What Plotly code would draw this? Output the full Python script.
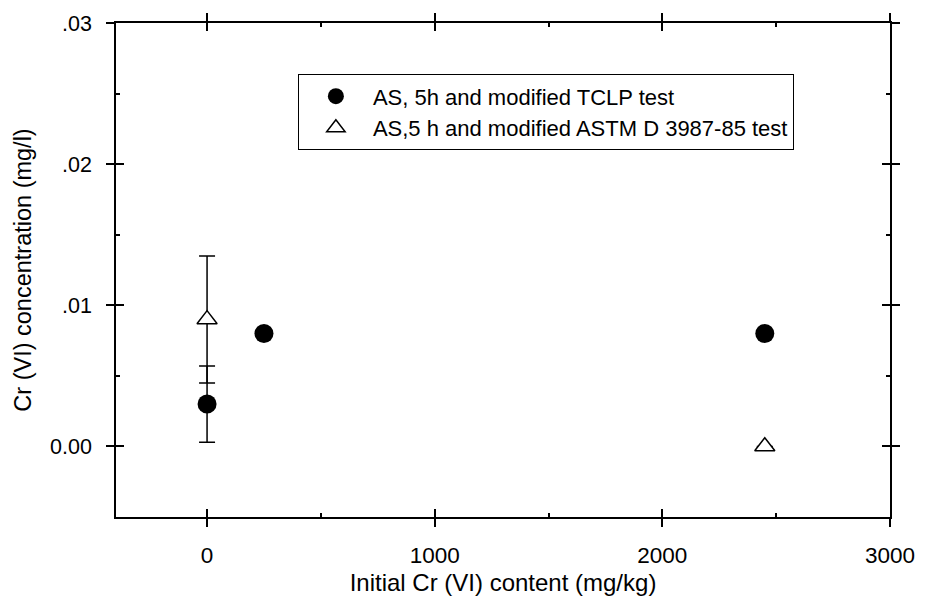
import plotly.graph_objects as go

# Data
tclp_x = [0, 250, 2450]
tclp_y = [0.003, 0.008, 0.008]
tclp_err = [0.0027, None, None]

astm_x = [0, 2450]
astm_y = [0.009, 0.0]
astm_err = [0.0045, None]

x_ticks = [0, 1000, 2000, 3000]
x_minor = [500, 1500, 2500]
y_ticks = [0.0, 0.01, 0.02, 0.03]
y_ticktext = ["0.00", ".01", ".02", ".03"]
y_minor = [0.005, 0.015, 0.025]

FONT = "Liberation Sans, Arial, Helvetica, sans-serif"

fig = go.Figure()
fig.add_trace(go.Scatter(
    x=tclp_x, y=tclp_y, mode="markers",
    name="AS, 5h and modified TCLP test",
    marker=dict(symbol="circle", size=19, color="black", line=dict(width=0)),
    error_y=dict(type="data", array=tclp_err, visible=True, color="black",
                 thickness=1.5, width=8),
))
fig.add_trace(go.Scatter(
    x=astm_x, y=astm_y, mode="markers",
    name="AS,5 h and modified ASTM D 3987-85 test",
    marker=dict(symbol="triangle-up", size=17.5, color="white",
                line=dict(color="black", width=1.5)),
    error_y=dict(type="data", array=astm_err, visible=True, color="black",
                 thickness=1.5, width=8),
))
# invisible trace to carry overlay axes for crossing ticks
fig.add_trace(go.Scatter(x=[x_ticks[0]], y=[y_ticks[0]], xaxis="x2", yaxis="y2",
                         mode="markers", marker=dict(opacity=0), showlegend=False,
                         hoverinfo="skip"))

common = dict(showgrid=False, zeroline=False, tickcolor="black", tickwidth=1.5,
              linecolor="black", linewidth=1.5)

fig.update_layout(
    width=927, height=609,
    margin=dict(l=116, r=32, t=16, b=92),
    paper_bgcolor="white", plot_bgcolor="white",
    font=dict(family=FONT, color="black", size=21),
    showlegend=True,
    legend=dict(x=0.235, y=0.896, xanchor="left", yanchor="top",
                bordercolor="black", borderwidth=1, bgcolor="white",
                font=dict(size=22, family=FONT), itemwidth=64,
                tracegroupgap=0),
    xaxis=dict(range=[-400, 3000], tickmode="array", tickvals=x_ticks,
               ticks="outside", ticklen=8, showline=True, mirror="ticks",
               ticklabelstandoff=9, tickfont=dict(size=22.5),
               minor=dict(tickmode="array", tickvals=x_minor, ticks="inside",
                          ticklen=4, tickwidth=1.5, tickcolor="black"),
               title=dict(text="Initial Cr (VI) content (mg/kg)",
                          font=dict(size=24), standoff=7),
               **common),
    yaxis=dict(range=[-0.005, 0.03], tickmode="array", tickvals=y_ticks,
               ticktext=y_ticktext, ticks="outside", ticklen=8, showline=True,
               mirror="ticks", ticklabelstandoff=10, tickfont=dict(size=21.5),
               minor=dict(tickmode="array", tickvals=y_minor, ticks="inside",
                          ticklen=4, tickwidth=1.5, tickcolor="black"),
               title=dict(text="Cr (VI) concentration (mg/l)",
                          font=dict(size=23.5), standoff=12),
               **common),
    xaxis2=dict(overlaying="x", matches="x", tickmode="array", tickvals=x_ticks,
                ticks="inside", ticklen=8, showticklabels=False, showline=False,
                mirror="ticks", showgrid=False, zeroline=False,
                tickcolor="black", tickwidth=1.5),
    yaxis2=dict(overlaying="y", matches="y", tickmode="array", tickvals=y_ticks,
                ticks="inside", ticklen=8, showticklabels=False, showline=False,
                mirror="ticks", showgrid=False, zeroline=False,
                tickcolor="black", tickwidth=1.5),
)

fig.write_html("out.html")
